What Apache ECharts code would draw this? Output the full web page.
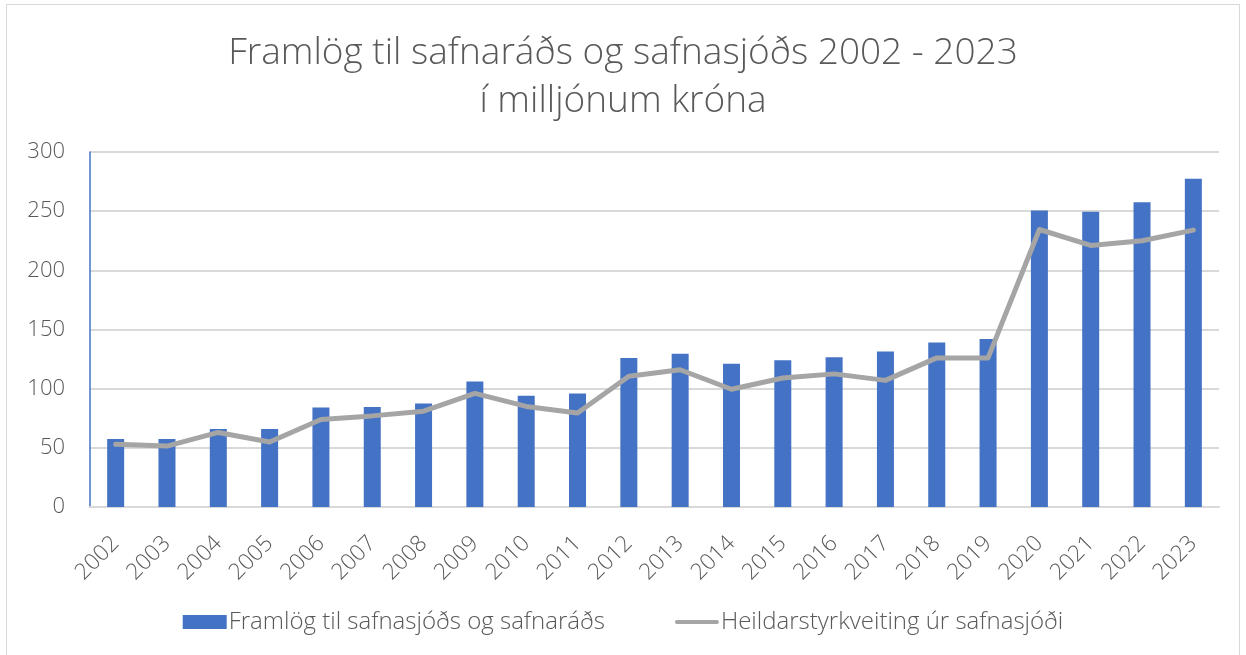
<!DOCTYPE html>
<html><head><meta charset="utf-8">
<script src="https://cdn.jsdelivr.net/npm/echarts@6/dist/echarts.min.js"></script>
<style>
html,body{margin:0;padding:0;background:#fff;}
#frame{position:absolute;left:6px;top:4px;width:1234px;height:660px;border:1px solid #d9d9d9;box-sizing:border-box;}
#c{position:absolute;left:0;top:0;width:1246px;height:655px;}
</style></head>
<body>
<div id="frame"></div>
<div id="c"></div>
<script>
const categories = ['2002','2003','2004','2005','2006','2007','2008','2009','2010','2011','2012','2013','2014','2015','2016','2017','2018','2019','2020','2021','2022','2023'];
const framlog = [57.5,57.5,66,66,84,84.5,87.5,106,94,96,126,129.5,121,124,126.5,131.5,139,142,250.5,249.5,257.5,277.5];
const heildar = [53,51.5,63,55,74,77,81,96,85,79.5,110.5,116,99.5,109,112.5,107,126,126,234.5,221,225,234];
const yTicks = [0,50,100,150,200,250,300];
const seriesNames = ['Framlög til safnasjóðs og safnaráðs','Heildarstyrkveiting úr safnasjóði'];
const titleLines = ['Framlög til safnaráðs og safnasjóðs 2002 - 2023','í milljónum króna'];

const font = '"Open Sans", Lato, sans-serif';
const chart = echarts.init(document.getElementById('c'), null, {renderer:'canvas'});
chart.setOption({
  animation:false,
  title:{
    text: titleLines.join('\n'),
    left:'center', top:24,
    textStyle:{fontFamily:font, fontWeight:300, fontSize:37, color:'#595959', lineHeight:48}
  },
  legend:{
    bottom:16, left:'center', itemGap:70,
    itemWidth:44, itemHeight:14,
    textStyle:{fontFamily:font, fontWeight:300, fontSize:24, color:'#595959', padding:[0,0,0,-3]},
    data:[
      {name:seriesNames[0], icon:'rect'},
      {name:seriesNames[1], icon:'path://M2,5 L42,5 A2,2 0 0 1 42,9 L2,9 A2,2 0 0 1 2,5 Z'}
    ]
  },
  grid:{left:90, right:27, top:152, bottom:148, containLabel:false},
  xAxis:{
    type:'category', data:categories,
    axisLine:{lineStyle:{color:'#d9d9d9', width:2}},
    axisTick:{show:false},
    axisLabel:{rotate:45, fontFamily:font, fontWeight:300, fontSize:22.5, color:'#595959', margin:33, interval:0}
  },
  yAxis:{
    type:'value', min:0, max:300, interval:50,
    axisLine:{show:true, lineStyle:{color:'#4472c4', width:1.5}},
    axisTick:{show:false},
    splitLine:{lineStyle:{color:'#d9d9d9', width:2}},
    axisLabel:{fontFamily:font, fontWeight:300, fontSize:22, color:'#595959', margin:25,
      formatter:function(v){return yTicks.indexOf(v)>=0?String(v):'';}}
  },
  series:[
    {name:seriesNames[0], type:'bar', data:framlog, barWidth:17, itemStyle:{color:'#4472c4'}},
    {name:seriesNames[1], type:'line', data:heildar, symbol:'none',
     lineStyle:{color:'#a5a5a5', width:5, cap:'round', join:'round'}, itemStyle:{color:'#a5a5a5'}}
  ]
});
</script>
</body></html>
